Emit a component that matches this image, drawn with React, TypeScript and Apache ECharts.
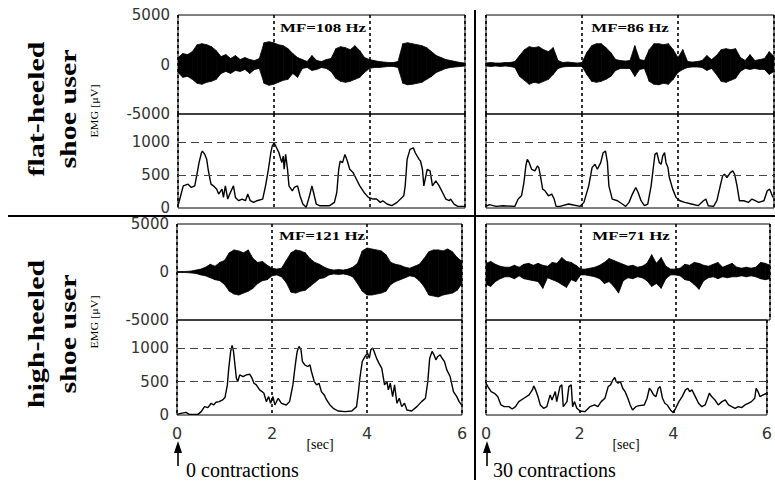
import React, { useEffect, useRef } from "react";
import * as echarts from "echarts";

// ---------- DATA ----------
const timeTicks = [0, 2, 4, 6];
const rawTicks = [-5000, 0, 5000];
const envTicks = [0, 500, 1000];
const envGridValues = [500, 1000];
const mfLabels = ["MF=108 Hz", "MF=86 Hz", "MF=121 Hz", "MF=71 Hz"];
const rowLabels = [
  ["flat-heeled", "shoe user"],
  ["high-heeled", "shoe user"],
];
const unitLabel = "EMG [μV]";
const timeUnit = "[sec]";
const contractionLabels = ["0 contractions", "30 contractions"];

// sample times of raw EMG extent readings (s)
const rawTime = [
  0, 0.1, 0.2, 0.3, 0.4, 0.5, 0.6, 0.7, 0.8, 0.9,
  1.0, 1.1, 1.2, 1.3, 1.4, 1.5, 1.6, 1.7, 1.8, 1.9,
  2.0, 2.1, 2.2, 2.3, 2.4, 2.5, 2.6, 2.7, 2.8, 2.9,
  3.0, 3.1, 3.2, 3.3, 3.4, 3.5, 3.6, 3.7, 3.8, 3.9,
  4.0, 4.1, 4.2, 4.3, 4.4, 4.5, 4.6, 4.7, 4.8, 4.9,
  5.0, 5.1, 5.2, 5.3, 5.4, 5.5, 5.6, 5.7, 5.8, 5.9, 6.0,
];

// flat-heeled, 0 contractions (raw upper / lower extent, µV)
const rawFlat0Up = [
  700, 1100, 1000, 1300, 2000, 2100, 2000, 1800, 1400, 800,
  1000, 600, 900, 500, 700, 500, 400, 600, 2200, 2300,
  2200, 2000, 1900, 1600, 1100, 700, 500, 300, 900, 400,
  300, 500, 600, 1600, 1800, 1700, 1500, 1900, 1400, 700,
  500, 400, 300, 250, 200, 200, 300, 2100, 2200, 2100,
  2000, 1900, 1700, 1300, 900, 700, 500, 400, 300, 200, 150,
];
const rawFlat0Lo = [
  -800, -1300, -1200, -1500, -1900, -2000, -1800, -1700, -1500, -900,
  -700, -900, -600, -700, -500, -900, -500, -400, -1900, -2100,
  -2000, -1800, -1600, -1500, -900, -1300, -400, -300, -600, -500,
  -300, -400, -700, -1400, -1700, -1800, -1700, -1500, -1300, -800,
  -400, -300, -300, -250, -200, -200, -300, -1900, -2050, -2000,
  -1900, -1800, -1500, -1200, -800, -600, -400, -300, -250, -200, -150,
];
// flat-heeled, 30 contractions
const rawFlat30Up = [
  150, 200, 150, 150, 200, 200, 300, 900, 1500, 1800,
  1700, 1800, 1500, 1300, 1700, 400, 200, 250, 200, 150,
  200, 1200, 1900, 2100, 2100, 1700, 1200, 500, 400, 350,
  400, 1900, 500, 400, 1500, 2100, 2100, 2000, 2100, 1500,
  700, 1500, 300, 250, 300, 400, 900, 500, 900, 1500,
  1600, 1500, 1600, 700, 400, 1000, 400, 500, 600, 1300, 800,
];
const rawFlat30Lo = [
  -150, -200, -150, -200, -150, -200, -300, -1200, -1600, -2000,
  -1800, -1900, -1700, -1500, -1000, -400, -250, -200, -200, -200,
  -200, -1000, -1700, -1800, -1700, -1500, -1200, -600, -400, -400,
  -400, -1200, -500, -400, -1700, -2000, -2050, -1900, -2000, -1500,
  -800, -500, -300, -250, -250, -300, -600, -400, -1000, -1700,
  -1800, -1600, -1400, -700, -400, -500, -400, -500, -500, -1000, -700,
];
// high-heeled, 0 contractions
const rawHigh0Up = [
  50, 50, 60, 100, 200, 300, 500, 800, 600, 1000,
  1200, 2000, 2300, 2200, 2000, 2300, 1400, 1000, 1100, 700,
  400, 300, 400, 1200, 2000, 2300, 2200, 2000, 1400, 1000,
  800, 500, 300, 200, 250, 200, 300, 500, 900, 2200,
  2500, 2400, 2300, 2200, 1800, 1000, 800, 700, 500, 400,
  600, 800, 1400, 2100, 2300, 2300, 2200, 2400, 2100, 1500, 1100,
];
const rawHigh0Lo = [
  -50, -50, -60, -100, -150, -300, -400, -600, -800, -900,
  -1300, -2000, -2300, -2400, -2200, -2000, -1700, -1200, -900, -800,
  -400, -300, -500, -1100, -2100, -2200, -2000, -1900, -1500, -1100,
  -700, -600, -300, -200, -250, -200, -300, -500, -1200, -2000,
  -2400, -2400, -2300, -2200, -2000, -1300, -1000, -800, -600, -400,
  -500, -900, -1500, -2400, -2500, -2600, -2400, -2300, -2200, -1900, -1200,
];
// high-heeled, 30 contractions
const rawHigh30Up = [
  900, 1100, 800, 600, 500, 500, 700, 500, 800, 900,
  700, 900, 700, 600, 1000, 900, 1500, 1100, 1000, 700,
  300, 300, 400, 500, 700, 1000, 1400, 1200, 1000, 800,
  600, 700, 500, 600, 900, 1800, 900, 1500, 600, 300,
  300, 400, 800, 700, 1000, 900, 700, 600, 800, 1000,
  500, 700, 900, 500, 400, 500, 400, 500, 1000, 900, 700,
];
const rawHigh30Lo = [
  -1300, -1500, -1000, -700, -500, -500, -700, -400, -700, -800,
  -900, -1000, -1700, -600, -800, -1000, -1300, -1600, -800, -1000,
  -300, -300, -400, -500, -700, -1200, -1000, -1500, -2200, -900,
  -600, -700, -500, -600, -900, -1500, -1200, -1700, -700, -300,
  -300, -400, -800, -900, -1300, -1800, -900, -600, -500, -700,
  -500, -600, -500, -500, -400, -500, -400, -500, -700, -800, -700,
];

// rectified / smoothed envelopes [time s, µV]
const envFlat0 = [
  [0.01, 60], [0.11, 335], [0.21, 360], [0.28, 310], [0.35, 335], [0.39, 485], [0.44, 685], [0.49, 835],
  [0.51, 860], [0.56, 810], [0.6, 735], [0.63, 585], [0.69, 360], [0.74, 335], [0.81, 285], [0.85, 210],
  [0.92, 285], [0.95, 160], [0.99, 335], [1.04, 135], [1.08, 210], [1.16, 335], [1.2, 160], [1.27, 110],
  [1.34, 135], [1.41, 110], [1.46, 210], [1.51, 110], [1.58, 85], [1.65, 110], [1.77, 135], [1.83, 335],
  [1.89, 585], [1.94, 835], [1.97, 935], [2.01, 985], [2.06, 910], [2.11, 835], [2.17, 685], [2.2, 785],
  [2.22, 585], [2.25, 810], [2.29, 585], [2.32, 335], [2.39, 260], [2.43, 310], [2.5, 335], [2.55, 185],
  [2.61, 60], [2.68, 10], [2.75, 185], [2.8, 335], [2.85, 185], [2.89, 60], [2.96, 35], [3.17, 35],
  [3.27, 85], [3.32, 235], [3.36, 585], [3.39, 710], [3.44, 685], [3.49, 810], [3.54, 710], [3.59, 585],
  [3.66, 535], [3.73, 435], [3.8, 335], [3.89, 235], [3.98, 160], [4.08, 135], [4.15, 135], [4.23, 85],
  [4.28, 110], [4.37, 60], [4.47, 35], [4.58, 85], [4.72, 185], [4.75, 335], [4.79, 735], [4.85, 885],
  [4.92, 910], [4.96, 835], [5.04, 735], [5.07, 710], [5.11, 585], [5.14, 335], [5.21, 585], [5.27, 560],
  [5.32, 335], [5.39, 410], [5.46, 335], [5.53, 235], [5.6, 135], [5.67, 110], [5.7, 135], [5.77, 60],
  [5.85, 25], [6.0, 25],
];
const envFlat30 = [
  [0, 25], [0.07, 50], [0.21, 25], [0.35, 35], [0.6, 25], [0.67, 135], [0.74, 185], [0.79, 385],
  [0.83, 635], [0.86, 735], [0.9, 685], [0.95, 585], [1.02, 560], [1.07, 635], [1.1, 610], [1.14, 460],
  [1.18, 285], [1.23, 260], [1.3, 185], [1.37, 210], [1.42, 135], [1.46, 25], [1.54, 25], [1.72, 60],
  [1.82, 45], [1.96, 25], [2.04, 85], [2.14, 335], [2.21, 610], [2.27, 660], [2.32, 585], [2.39, 685],
  [2.44, 835], [2.49, 860], [2.53, 685], [2.56, 335], [2.63, 135], [2.74, 110], [2.84, 60], [2.91, 25],
  [2.98, 85], [3.05, 210], [3.12, 310], [3.17, 235], [3.23, 110], [3.3, 35], [3.37, 60], [3.44, 335],
  [3.49, 635], [3.52, 810], [3.56, 835], [3.61, 685], [3.65, 660], [3.68, 785], [3.72, 835], [3.75, 685],
  [3.79, 610], [3.82, 460], [3.89, 285], [3.96, 160], [4.04, 110], [4.14, 85], [4.28, 60], [4.42, 35],
  [4.53, 110], [4.58, 135], [4.63, 35], [4.74, 25], [4.81, 110], [4.88, 335], [4.93, 485], [4.97, 510],
  [5.02, 460], [5.09, 535], [5.14, 560], [5.18, 510], [5.23, 335], [5.28, 110], [5.37, 110], [5.47, 85],
  [5.54, 135], [5.61, 110], [5.68, 85], [5.79, 110], [5.86, 260], [5.91, 285], [5.95, 210], [5.98, 160],
];
const envHigh0 = [
  [0, 10], [0.08, 25], [0.19, 40], [0.26, 10], [0.44, 10], [0.51, 50], [0.58, 125], [0.65, 110],
  [0.72, 175], [0.77, 150], [0.82, 190], [0.89, 200], [0.96, 225], [1.01, 260], [1.06, 450], [1.09, 700],
  [1.13, 950], [1.16, 1040], [1.19, 950], [1.22, 750], [1.25, 550], [1.28, 500], [1.32, 600], [1.39, 575],
  [1.46, 600], [1.53, 610], [1.58, 550], [1.62, 475], [1.67, 450], [1.74, 375], [1.79, 350], [1.83, 325],
  [1.88, 200], [1.93, 275], [1.97, 175], [2.02, 275], [2.06, 150], [2.13, 250], [2.2, 175], [2.3, 150],
  [2.37, 200], [2.44, 450], [2.49, 750], [2.53, 950], [2.57, 1025], [2.61, 975], [2.64, 800], [2.69, 750],
  [2.75, 725], [2.8, 750], [2.83, 650], [2.89, 500], [2.94, 450], [2.99, 475], [3.04, 350], [3.1, 300],
  [3.15, 225], [3.22, 150], [3.29, 100], [3.39, 60], [3.54, 50], [3.68, 60], [3.78, 125], [3.82, 350],
  [3.85, 550], [3.9, 800], [3.96, 875], [4.01, 925], [4.05, 850], [4.08, 975], [4.12, 1000], [4.15, 950],
  [4.2, 850], [4.25, 775], [4.31, 700], [4.37, 450], [4.42, 500], [4.45, 375], [4.49, 475], [4.54, 275],
  [4.58, 450], [4.63, 175], [4.68, 250], [4.73, 125], [4.79, 175], [4.84, 75], [4.94, 60], [5.05, 125],
  [5.15, 200], [5.23, 250], [5.28, 500], [5.32, 850], [5.37, 950], [5.41, 900], [5.45, 825], [5.49, 875],
  [5.54, 900], [5.58, 850], [5.63, 800], [5.68, 675], [5.75, 575], [5.82, 350], [5.89, 275], [5.94, 200],
  [5.99, 150],
];
const envHigh30 = [
  [0, 475], [0.04, 425], [0.11, 350], [0.18, 325], [0.25, 275], [0.32, 150], [0.39, 125], [0.49, 125],
  [0.56, 90], [0.63, 125], [0.7, 200], [0.81, 250], [0.92, 300], [0.99, 375], [1.02, 435], [1.06, 375],
  [1.11, 275], [1.16, 150], [1.23, 100], [1.3, 125], [1.37, 300], [1.41, 225], [1.48, 350], [1.51, 200],
  [1.58, 425], [1.62, 450], [1.65, 125], [1.73, 200], [1.77, 425], [1.82, 450], [1.85, 125], [1.89, 200],
  [1.94, 100], [2.01, 60], [2.11, 50], [2.22, 125], [2.32, 150], [2.39, 125], [2.46, 200], [2.54, 250],
  [2.61, 425], [2.66, 450], [2.71, 525], [2.75, 560], [2.78, 500], [2.82, 475], [2.87, 500], [2.92, 400],
  [2.97, 350], [3.03, 250], [3.08, 150], [3.13, 75], [3.2, 125], [3.27, 140], [3.38, 150], [3.44, 250],
  [3.49, 400], [3.52, 375], [3.58, 300], [3.63, 275], [3.68, 400], [3.72, 425], [3.77, 250], [3.82, 175],
  [3.87, 150], [3.94, 75], [4.0, 35], [4.05, 100], [4.12, 200], [4.19, 275], [4.26, 375], [4.31, 400],
  [4.35, 350], [4.4, 375], [4.47, 275], [4.54, 175], [4.61, 125], [4.68, 150], [4.72, 225], [4.77, 325],
  [4.82, 275], [4.89, 225], [4.96, 150], [5.04, 200], [5.11, 225], [5.18, 150], [5.25, 125], [5.32, 100],
  [5.39, 125], [5.46, 110], [5.53, 150], [5.6, 175], [5.67, 200], [5.74, 250], [5.77, 400], [5.81, 350],
  [5.85, 275], [5.92, 300], [6.0, 325],
];

// ---------- LAYOUT ----------
const RAW_MIN = rawTicks[0];
const RAW_MAX = rawTicks[rawTicks.length - 1];
const ENV_MAX = 1420;

type Box = { left: number; top: number; width: number; height: number };
const panels: {
  raw: Box; env: Box; yLabels: boolean; xLabels: boolean;
  up: number[]; lo: number[]; env_: number[][];
}[] = [
  { raw: { left: 178, top: 15, width: 287, height: 99 }, env: { left: 178, top: 114, width: 287, height: 94 }, yLabels: true, xLabels: false, up: rawFlat0Up, lo: rawFlat0Lo, env_: envFlat0 },
  { raw: { left: 486, top: 15, width: 288, height: 99 }, env: { left: 486, top: 114, width: 288, height: 94 }, yLabels: false, xLabels: false, up: rawFlat30Up, lo: rawFlat30Lo, env_: envFlat30 },
  { raw: { left: 177, top: 224, width: 285, height: 96 }, env: { left: 177, top: 320, width: 285, height: 95 }, yLabels: true, xLabels: true, up: rawHigh0Up, lo: rawHigh0Lo, env_: envHigh0 },
  { raw: { left: 486, top: 224, width: 284, height: 96 }, env: { left: 486, top: 320, width: 284, height: 95 }, yLabels: false, xLabels: true, up: rawHigh30Up, lo: rawHigh30Lo, env_: envHigh30 },
];

const LABEL_FONT = "DejaVu Sans";
const SERIF = "Liberation Serif";
const plain = (v: number) => String(v);

function buildOption() {
  const grid: any[] = [];
  const xAxis: any[] = [];
  const yAxis: any[] = [];
  const series: any[] = [];

  panels.forEach((p, pi) => {
    [p.raw, p.env].forEach((b, k) => {
      const gi = pi * 2 + k;
      grid.push({ ...b, show: true, borderColor: "#000", borderWidth: 1, backgroundColor: "transparent", containLabel: false });
      xAxis.push({
        type: "value", gridIndex: gi, min: timeTicks[0], max: timeTicks[timeTicks.length - 1], interval: 2,
        axisLine: { show: false }, axisTick: { show: false },
        axisLabel: { show: k === 1 && p.xLabels, formatter: plain, fontFamily: LABEL_FONT, fontSize: 16, color: "#333", margin: 10 },
        splitLine: { show: true, lineStyle: { color: "#000", type: [3, 3], width: 1.6 } },
      });
      if (k === 0) {
        yAxis.push({
          type: "value", gridIndex: gi, min: RAW_MIN, max: RAW_MAX, interval: 5000,
          axisLine: { show: false }, axisTick: { show: false }, splitLine: { show: false },
          axisLabel: { show: p.yLabels, formatter: plain, fontFamily: LABEL_FONT, fontSize: 15, color: "#333", margin: 8 },
        });
      } else {
        yAxis.push({
          type: "value", gridIndex: gi, min: envTicks[0], max: ENV_MAX, interval: envTicks[1] - envTicks[0],
          axisLine: { show: false }, axisTick: { show: false }, splitLine: { show: false },
          axisLabel: { show: p.yLabels, showMaxLabel: false, formatter: plain, fontFamily: LABEL_FONT, fontSize: 15, color: "#333", margin: 8 },
        });
      }
    });

    const up = p.up;
    const lo = p.lo;
    series.push({
      type: "custom",
      xAxisIndex: pi * 2,
      yAxisIndex: pi * 2,
      clip: true,
      data: rawTime.map((t, i) => [t, up[i], lo[i]]),
      encode: { x: 0, y: [1, 2] },
      renderItem: (params: any, api: any) => {
        const i = params.dataIndex;
        if (i >= rawTime.length - 1) return null;
        const a1 = api.coord([rawTime[i], up[i]]);
        const a2 = api.coord([rawTime[i + 1], up[i + 1]]);
        const b2 = api.coord([rawTime[i + 1], lo[i + 1]]);
        const b1 = api.coord([rawTime[i], lo[i]]);
        return {
          type: "polygon",
          shape: { points: [a1, a2, b2, b1] },
          style: { fill: "#000", stroke: "#000", lineWidth: 0.8 },
        };
      },
    });
    series.push({
      type: "line",
      xAxisIndex: pi * 2 + 1,
      yAxisIndex: pi * 2 + 1,
      data: p.env_,
      showSymbol: false,
      symbol: "none",
      lineStyle: { color: "#000", width: 1.4 },
      z: 3,
      markLine: {
        silent: true,
        symbol: "none",
        label: { show: false },
        lineStyle: { color: "#444", type: [8, 5], width: 1.2 },
        data: envGridValues.map((v) => ({ yAxis: v })),
      },
    });
  });

  const mfPos = [[323, 28], [630, 28], [322, 236], [631, 236]];
  const graphic: any[] = [
    { type: "line", shape: { x1: 8, y1: 216, x2: 775, y2: 216 }, style: { stroke: "#000", lineWidth: 2 } },
    { type: "line", shape: { x1: 475, y1: 10, x2: 475, y2: 480 }, style: { stroke: "#000", lineWidth: 2 } },
  ];
  mfLabels.forEach((t, i) => {
    graphic.push({
      type: "text", x: mfPos[i][0], y: mfPos[i][1], scaleX: 1.3,
      style: { text: t, fontFamily: SERIF, fontWeight: "bold", fontSize: 13, fill: "#000", textAlign: "center", textVerticalAlign: "middle" },
    });
  });
  const rowCenters = [109, 334];
  rowLabels.forEach((lines, r) => {
    [36, 68].forEach((x, li) => {
      graphic.push({
        type: "text", x, y: rowCenters[r], rotation: Math.PI / 2, scaleX: 1.25,
        style: { text: lines[li], fontFamily: SERIF, fontWeight: "bold", fontSize: 24, fill: "#000", textAlign: "center", textVerticalAlign: "middle" },
      });
    });
  });
  [111, 322].forEach((y) => {
    graphic.push({
      type: "text", x: 95, y, rotation: Math.PI / 2, scaleX: 1.1,
      style: { text: unitLabel, fontFamily: SERIF, fontSize: 11, fill: "#000", textAlign: "center", textVerticalAlign: "middle" },
    });
  });
  [320, 626].forEach((x) => {
    graphic.push({
      type: "text", x, y: 444,
      style: { text: timeUnit, fontFamily: SERIF, fontSize: 14, fill: "#000", textAlign: "center", textVerticalAlign: "middle" },
    });
  });
  [[178, 186], [487, 493]].forEach(([ax, tx], i) => {
    graphic.push({ type: "line", shape: { x1: ax, y1: 450, x2: ax, y2: 466 }, style: { stroke: "#000", lineWidth: 1.6 } });
    graphic.push({ type: "polygon", shape: { points: [[ax, 441], [ax - 4, 453], [ax + 4, 453]] }, style: { fill: "#000" } });
    graphic.push({
      type: "text", x: tx, y: 470,
      style: { text: contractionLabels[i], fontFamily: SERIF, fontSize: 20, fill: "#000", textAlign: "left", textVerticalAlign: "middle" },
    });
  });

  return {
    animation: false,
    backgroundColor: "#fff",
    grid, xAxis, yAxis, series, graphic,
  };
}

export default function App() {
  const ref = useRef<HTMLDivElement>(null);
  useEffect(() => {
    if (!ref.current) return;
    const chart = echarts.init(ref.current, null, { renderer: "svg" });
    chart.setOption(buildOption() as any);
    return () => chart.dispose();
  }, []);
  return (
    <div style={{ position: "absolute", left: 0, top: 0, width: 775, height: 483, background: "#fff" }}>
      <div ref={ref} style={{ width: 775, height: 483 }} />
    </div>
  );
}
